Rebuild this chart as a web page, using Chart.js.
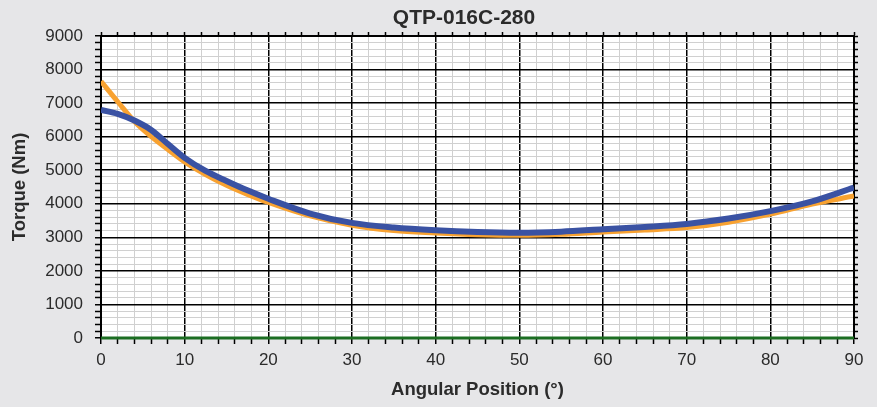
<!DOCTYPE html>
<html>
<head>
<meta charset="utf-8">
<script src="https://cdn.jsdelivr.net/npm/chart.js@4"></script>
<style>
  html, body { margin: 0; padding: 0; background: #e6e6e8; }
  #wrap { width: 877px; height: 407px; }
</style>
</head>
<body>
<div id="wrap"><canvas id="torqueChart"></canvas></div>
<script>
// Chart values
const chartTitle = 'QTP-016C-280';
const angles = [0, 2, 4, 6, 8, 10, 12.5, 15, 17.5, 20, 25, 30, 35, 40, 45, 50, 55, 60, 65, 70, 75, 80, 85, 90];
const torqueBlue = [6800, 6680, 6480, 6200, 5780, 5370, 4980, 4680, 4400, 4150, 3710, 3430, 3290, 3210, 3160, 3140, 3170, 3240, 3310, 3400, 3560, 3780, 4070, 4480];
const torqueOrange = [7650, 7040, 6450, 6000, 5620, 5250, 4870, 4550, 4280, 4040, 3640, 3360, 3200, 3130, 3080, 3060, 3090, 3160, 3220, 3290, 3450, 3690, 3990, 4230];
const zeroLine = [0, 0];
const zeroAngles = [0, 90];

const FONT = '"Liberation Sans", Arial, sans-serif';
const TEXT = '#2b2b2b';
const MINOR = '#d0d0d0';

function toPoints(xs, ys) {
    return xs.map((x, i) => ({ x: x, y: ys[i] }));
}

// helpers for major / minor grid
const isMajorX = ctx => ctx.tick && ctx.tick.value % 10 === 0;
const isMajorY = ctx => ctx.tick && ctx.tick.value % 1000 === 0;

// white plot area + title placed like the original (a bit right of centre)
const plotDecor = {
    id: 'plotDecor',
    beforeDraw(chart) {
        const { ctx, chartArea: a } = chart;
        ctx.save();
        ctx.fillStyle = '#ffffff';
        ctx.fillRect(a.left, a.top, a.right - a.left, a.bottom - a.top);
        ctx.restore();
    },
    afterDraw(chart) {
        const { ctx } = chart;
        ctx.save();
        ctx.font = 'bold 21px ' + FONT;
        ctx.fillStyle = TEXT;
        ctx.textAlign = 'center';
        ctx.textBaseline = 'middle';
        ctx.fillText(chartTitle, 464, 18);
        ctx.restore();
    }
};

const ctx = document.getElementById('torqueChart').getContext('2d');
new Chart(ctx, {
    type: 'line',
    data: {
        datasets: [
            {
                label: 'zero',
                data: toPoints(zeroAngles, zeroLine),
                borderColor: '#1c6e22',
                borderWidth: 3,
                pointRadius: 0,
                clip: false
            },
            {
                label: 'blue',
                data: toPoints(angles, torqueBlue),
                borderColor: '#3a52a3',
                borderWidth: 6,
                pointRadius: 0,
                cubicInterpolationMode: 'monotone'
            },
            {
                label: 'orange',
                data: toPoints(angles, torqueOrange),
                borderColor: '#f8a231',
                borderWidth: 5,
                pointRadius: 0,
                cubicInterpolationMode: 'monotone'
            }
        ]
    },
    plugins: [plotDecor],
    options: {
        responsive: true,
        maintainAspectRatio: false,
        animation: false,
        layout: { padding: { left: 0, right: 18, top: 32, bottom: 0 } },
        plugins: {
            legend: { display: false },
            tooltip: { enabled: false },
            title: { display: false }
        },
        scales: {
            x: {
                type: 'linear',
                position: 'bottom',
                min: 0,
                max: 90,
                afterFit: scale => { scale.height = 69; },
                ticks: {
                    stepSize: 2,
                    autoSkip: false,
                    maxRotation: 0,
                    padding: 6,
                    color: TEXT,
                    font: { family: FONT, size: 17 },
                    callback: v => (v % 10 === 0 ? v : '')
                },
                grid: {
                    z: -1,
                    color: c => (isMajorX(c) ? '#000' : MINOR),
                    lineWidth: c => (isMajorX(c) ? 1.5 : 1),
                    tickColor: '#000',
                    tickLength: 6,
                    tickWidth: 1.5
                },
                border: { color: '#000', width: 2 },
                title: {
                    display: true,
                    text: 'Angular Position (°)',
                    color: TEXT,
                    font: { family: FONT, size: 18.5, weight: 'bold' },
                    padding: { top: 0, bottom: 6 }
                }
            },
            x2: {
                type: 'linear',
                position: 'top',
                min: 0,
                max: 90,
                afterFit: scale => { scale.height = 4; },
                ticks: { stepSize: 2, autoSkip: false, display: false },
                grid: {
                    drawOnChartArea: false,
                    tickColor: '#000',
                    tickLength: 4,
                    tickWidth: 1.5
                },
                border: { color: '#000', width: 2 }
            },
            y: {
                type: 'linear',
                position: 'left',
                min: 0,
                max: 9000,
                afterFit: scale => { scale.width = 101; },
                ticks: {
                    stepSize: 200,
                    autoSkip: false,
                    padding: 12,
                    color: TEXT,
                    font: { family: FONT, size: 17 },
                    callback: v => (v % 1000 === 0 ? v : '')
                },
                grid: {
                    z: 0,
                    color: c => (isMajorY(c) ? '#000' : MINOR),
                    lineWidth: c => (isMajorY(c) ? 1.5 : 1),
                    tickColor: '#000',
                    tickLength: 6,
                    tickWidth: 1.5
                },
                border: { color: '#000', width: 2 },
                title: {
                    display: true,
                    text: 'Torque (Nm)',
                    color: TEXT,
                    font: { family: FONT, size: 18.5, weight: 'bold' },
                    padding: { top: 9, bottom: 0 }
                }
            },
            y2: {
                type: 'linear',
                position: 'right',
                min: 0,
                max: 9000,
                afterFit: scale => { scale.width = 5; },
                ticks: { stepSize: 200, autoSkip: false, display: false },
                grid: {
                    drawOnChartArea: false,
                    tickColor: '#000',
                    tickLength: 4,
                    tickWidth: 1.5
                },
                border: { color: '#000', width: 2 }
            }
        }
    }
});
</script>
</body>
</html>
